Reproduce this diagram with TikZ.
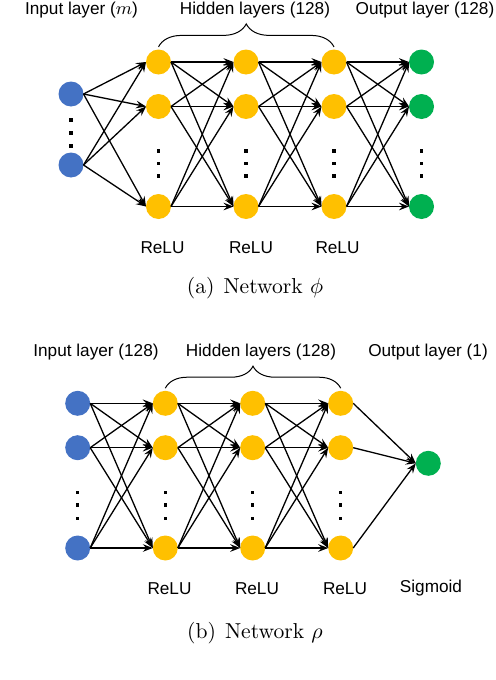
\documentclass[tikz,border=0pt]{standalone}
\usepackage{fontspec}
\usetikzlibrary{arrows.meta,decorations.pathreplacing}
\newfontfamily\labfont{Liberation Sans}
\definecolor{inblue}{HTML}{4472C4}
\definecolor{hidyellow}{HTML}{FFC000}
\definecolor{outgreen}{HTML}{00B050}
\begin{document}
\begin{tikzpicture}[x=0.5pt, y=-0.5pt,
	neuron/.style={circle, minimum size=12.5pt, inner sep=0pt, outer sep=0pt},
	inp/.style={neuron, fill=inblue},
	hid/.style={neuron, fill=hidyellow},
	outp/.style={neuron, fill=outgreen},
	vdot/.style={fill=black, minimum size=1.7pt, inner sep=0pt, outer sep=0pt},
	lab/.style={font=\labfont\fontsize{8.6}{10}\selectfont, inner sep=0pt},
	captext/.style={font=\fontsize{10.8}{12}\selectfont, inner sep=0pt},
	conn/.style={->, >={Stealth[length=5pt, width=3.8pt, inset=1.8pt]}, line width=0.65pt},
	curly/.style={decorate, decoration={brace, amplitude=11.5pt}, line width=0.5pt}]
	\useasboundingbox (0, 0) rectangle (496, 680);

	% Network phi
	\node[lab] (phiin) at (81.5, 10) {Input layer ($m$)};
	\node[lab] (phihid) at (255, 10) {Hidden layers (128)};
	\node[lab] (phiout) at (425, 10) {Output layer (128)};
	\node[inp] (in1) at (71, 94) {};
	\node[inp] (in2) at (71, 165) {};
	\node[hid] (h11) at (158.5, 62) {};
	\node[hid] (h12) at (158.5, 106.5) {};
	\node[hid] (h13) at (158.5, 206.5) {};
	\node[hid] (h21) at (246, 62) {};
	\node[hid] (h22) at (246, 106.5) {};
	\node[hid] (h23) at (246, 206.5) {};
	\node[hid] (h31) at (334, 62) {};
	\node[hid] (h32) at (334, 106.5) {};
	\node[hid] (h33) at (334, 206.5) {};
	\node[outp] (out1) at (421.5, 62) {};
	\node[outp] (out2) at (421.5, 106.5) {};
	\node[outp] (out3) at (421.5, 206.5) {};
	\foreach \y in {120, 133, 146} \node[vdot] at (71, \y) {};
	\foreach \x in {158.5, 246, 334, 421.5}
		\foreach \y in {151, 163.5, 176} \node[vdot] at (\x, \y) {};
	\foreach \i in {1, 2}
		\foreach \j in {1, 2, 3} \draw[conn] (in\i.east) -- (h1\j.west);
	\foreach \i in {1, 2, 3}
		\foreach \j in {1, 2, 3} {
			\draw[conn] (h1\i.east) -- (h2\j.west);
			\draw[conn] (h2\i.east) -- (h3\j.west);
			\draw[conn] (h3\i.east) -- (out\j.west);
		}
	\draw[curly] ([yshift=1.3pt]h11.north) -- ([yshift=1.3pt]h31.north);
	\node[lab] (phir1) at (162.5, 247.5) {ReLU};
	\node[lab] (phir2) at (251, 247.5) {ReLU};
	\node[lab] (phir3) at (337.5, 247.5) {ReLU};
	\node[captext] (phicap) at (255, 288) {(a)\hspace{4.5pt}Network $\phi$};

	% Network rho
	\node[lab] (rhoin) at (96, 351.7) {Input layer (128)};
	\node[lab] (rhohid) at (261, 351.7) {Hidden layers (128)};
	\node[lab] (rhoout) at (428, 351.7) {Output layer (1)};
	\node[inp] (rin1) at (77.7, 403.3) {};
	\node[inp] (rin2) at (77.7, 447.7) {};
	\node[inp] (rin3) at (77.7, 548) {};
	\node[hid] (rh11) at (165.3, 403.3) {};
	\node[hid] (rh12) at (165.3, 447.7) {};
	\node[hid] (rh13) at (165.3, 548) {};
	\node[hid] (rh21) at (252.7, 403.3) {};
	\node[hid] (rh22) at (252.7, 447.7) {};
	\node[hid] (rh23) at (252.7, 548) {};
	\node[hid] (rh31) at (340.7, 403.3) {};
	\node[hid] (rh32) at (340.7, 447.7) {};
	\node[hid] (rh33) at (340.7, 548) {};
	\node[outp] (rout) at (428.3, 463.3) {};
	\foreach \x in {77.7, 165.3, 252.7, 340.7}
		\foreach \y in {492.3, 505, 518.3} \node[vdot] at (\x, \y) {};
	\foreach \i in {1, 2, 3} {
		\foreach \j in {1, 2, 3} {
			\draw[conn] (rin\i.east) -- (rh1\j.west);
			\draw[conn] (rh1\i.east) -- (rh2\j.west);
			\draw[conn] (rh2\i.east) -- (rh3\j.west);
		}
		\draw[conn] (rh3\i.east) -- (rout.west);
	}
	\draw[curly, decoration={amplitude=11pt}] ([yshift=1.3pt]rh11.north) -- ([yshift=1.3pt]rh31.north);
	\node[lab] (rhor1) at (169.5, 588.3) {ReLU};
	\node[lab] (rhor2) at (257, 588.3) {ReLU};
	\node[lab] (rhor3) at (345, 588.3) {ReLU};
	\node[lab] (rhosig) at (431, 588.3) {Sigmoid};
	\node[captext] (rhocap) at (255, 633) {(b)\hspace{4.5pt}Network $\rho$};
\end{tikzpicture}
\end{document}
